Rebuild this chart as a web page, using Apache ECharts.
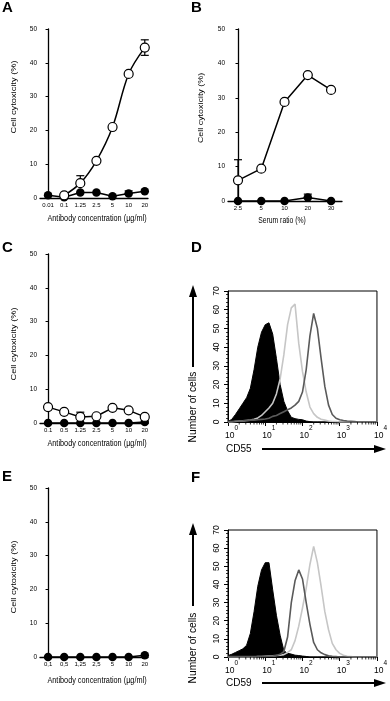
<!DOCTYPE html>
<html><head><meta charset="utf-8">
<script src="https://cdn.jsdelivr.net/npm/echarts@6/dist/echarts.min.js"></script>
<style>html,body{margin:0;padding:0;background:#fff}#c{width:390px;height:701px}</style>
</head><body><div id="c"></div>
<script>
// ---------- data ----------
const catsA = ['0.01','0.1','1.25','2.5','5','10','20'];
const openA = [null, 0.8, 4.4, 11, 21, 36.7, 44.5];
const filledA = [0.8, 0.2, 1.6, 1.6, 0.5, 1.3, 2];
const errOpenA = [[2, 4.4, 6.6], [6, 42.2, 46.8]];      // [category index, low, high]
const errFilledA = [[5, 1.3, 2.1]];

const catsB = ['2.5','5','10','20','30'];
const openB = [6, 9.4, 28.8, 36.6, 32.3];
const filledB = [0, 0, 0, 1, 0];
const errOpenB = [[0, 0, 12]];
const errFilledB = [[3, 1, 2]];

const catsC = ['0.1','0.5','1.25','2.5','5','10','20'];
const openC = [4.7, 3.3, 1.8, 2.0, 4.5, 3.75, 1.8];
const filledC = [0, 0, 0, 0, 0, 0, 0.3];
const errOpenC = [[2, 1.8, 3.2]];

const catsE = ['0,1','0,5','1,25','2,5','5','10','20'];
const filledE = [0, 0, 0, 0, 0, 0, 0.5];

const cytoTicks = [0, 10, 20, 30, 40, 50];
const countTicks = [0, 10, 20, 30, 40, 50, 60, 70];
const decades = [0, 1, 2, 3, 4];

// histogram counts, one value per 0.1 decade from 10^0 to 10^4 (41 bins)
const d55Black = [0.3,1.4,4,7,10,13,18,28,40,48,52,53,47,34,20,11,6,2.5,1.8,1.4,1.2,0.5,0.2,0,0,0,0,0,0,0,0,0,0,0,0,0,0,0,0,0,0];
const d55Light = [0,0,0.3,0.5,0.6,0.8,1,1.5,2.2,3.5,5.5,7.5,10,15,23,36,52,61,63,42,27,16,8,4.5,2.5,1.5,1,0.5,0.3,0.2,0,0,0,0,0,0,0,0,0,0,0];
const d55Dark  = [0.3,0.3,0.5,0.5,0.6,0.8,1,1,1.2,1.4,1.6,2,3,3.5,4.5,5.5,6.5,7.5,9,11,16,28,46,58,50,34,19,9,4,2,1.2,0.8,0.5,0.4,0.2,0,0,0,0,0,0];
const f59Black = [0.8,1.5,2.5,3.5,4.5,6.5,13,25,39,48,52,52,37,23,12,3.5,2,1.6,1,0.8,0.5,0.3,0,0,0,0,0,0,0,0,0,0,0,0,0,0,0,0,0,0,0];
const f59Dark  = [0.2,0.2,0.2,0.3,0.3,0.3,0.3,0.3,0.3,0.3,0.3,0.4,0.5,0.8,1.5,3,11,30,42,48,43,30,18,8,4,2.3,1.3,0.7,0.4,0.2,0,0,0,0,0,0,0,0,0,0,0];
const f59Light = [0,0,0,0,0,0,0,0,0.2,0.3,0.4,0.5,0.6,0.8,1,1.3,2.5,4,9,17,27,38,51,61,52,39,25,15,7.5,4,2,1,0.4,0.2,0,0,0,0,0,0,0];

// ---------- helpers ----------
const FONT = '"Liberation Sans", Arial, Helvetica, sans-serif';
const BLK = '#000';
const binPos = i => i / 10;
const histData = arr => arr.map((v, i) => [binPos(i), v]);
const ptData = arr => arr.map((v, i) => [i, v]).filter(d => d[1] !== null);
const minorLog = [];
decades.slice(0, 4).forEach(d => { for (let k = 2; k <= 9; k++) minorLog.push([d + Math.log10(k)]); });

function catX(gi, cats, min, max) {
  return {
    type: 'value', gridIndex: gi, min: min, max: max,
    axisLine: { show: true, onZero: false, lineStyle: { color: BLK, width: 1.3 } },
    axisTick: { show: false }, splitLine: { show: false },
    axisLabel: { customValues: cats.map((c, i) => i), formatter: v => cats[Math.round(v)],
      fontSize: 6, color: BLK, margin: 4, fontFamily: FONT }
  };
}
function cytoY(gi) {
  return {
    type: 'value', gridIndex: gi, min: cytoTicks[0], max: cytoTicks[cytoTicks.length - 1], interval: 10,
    axisLine: { show: true, lineStyle: { color: BLK, width: 1.3 } },
    axisTick: { show: true, length: 2.5, lineStyle: { color: BLK, width: 1 } },
    splitLine: { show: false },
    axisLabel: { fontSize: 6.5, color: BLK, margin: 3, fontFamily: FONT }
  };
}
function logX(gi) {
  return {
    type: 'value', gridIndex: gi, min: decades[0], max: decades[decades.length - 1], interval: 1,
    axisLine: { show: true, onZero: false, lineStyle: { color: BLK, width: 1 } },
    axisTick: { show: true, length: 4, lineStyle: { color: BLK, width: 1 } },
    splitLine: { show: false },
    axisLabel: { formatter: v => '{b|10}{s|' + v + '}', margin: 3, padding: [0, 0, 0, 7],
      rich: { b: { fontSize: 8.5, fontFamily: FONT, color: BLK, lineHeight: 15, verticalAlign: 'bottom' },
              s: { fontSize: 6.5, fontFamily: FONT, color: BLK, lineHeight: 7, verticalAlign: 'top' } } }
  };
}
function countY(gi) {
  return {
    type: 'value', gridIndex: gi, min: countTicks[0], max: countTicks[countTicks.length - 1], interval: 10,
    axisLine: { show: true, lineStyle: { color: BLK, width: 1 } },
    axisTick: { show: true, length: 4, lineStyle: { color: BLK, width: 1 } },
    minorTick: { show: true, splitNumber: 5, length: 2, lineStyle: { color: BLK, width: 0.8 } },
    splitLine: { show: false },
    axisLabel: { show: false }
  };
}
function countLabels(gi, size) {
  return {
    type: 'custom', xAxisIndex: gi, yAxisIndex: gi, data: countTicks.map(v => [decades[0], v]),
    clip: false, z: 6, animation: false,
    renderItem: (params, api) => {
      const p = api.coord([api.value(0), api.value(1)]);
      return { type: 'group', x: p[0] - 11, y: p[1], rotation: Math.PI / 2, children: [
        { type: 'text', x: 0, y: 0,
          style: { text: String(api.value(1)), fontSize: size, fontFamily: FONT, fill: BLK, align: 'center', verticalAlign: 'middle' } }
      ] };
    }
  };
}
function ptSeries(gi, arr, open, smooth) {
  return {
    type: 'line', xAxisIndex: gi, yAxisIndex: gi, data: ptData(arr), clip: false,
    symbol: 'circle', symbolSize: open ? 9 : 8.5, smooth: smooth ? 0.35 : false,
    lineStyle: { color: BLK, width: 1.5 },
    itemStyle: open ? { color: '#fff', borderColor: BLK, borderWidth: 1.2 } : { color: BLK, borderColor: BLK, borderWidth: 0 },
    z: open ? 4 : 3, animation: false
  };
}
function errSeries(gi, arr) {
  return {
    type: 'custom', xAxisIndex: gi, yAxisIndex: gi, data: arr, clip: false, z: 2, animation: false,
    renderItem: (params, api) => {
      const x = api.value(0), lo = api.value(1), hi = api.value(2);
      const a = api.coord([x, hi]), b = api.coord([x, lo]);
      const w = 4, st = { stroke: BLK, lineWidth: 1.2 };
      return { type: 'group', children: [
        { type: 'line', shape: { x1: a[0], y1: a[1], x2: b[0], y2: b[1] }, style: st },
        { type: 'line', shape: { x1: a[0] - w, y1: a[1], x2: a[0] + w, y2: a[1] }, style: st },
        { type: 'line', shape: { x1: b[0] - w, y1: b[1], x2: b[0] + w, y2: b[1] }, style: st }
      ] };
    }
  };
}
function histSeries(gi, arr, color, fill, z) {
  return {
    type: 'line', xAxisIndex: gi, yAxisIndex: gi, data: histData(arr), symbol: 'none',
    lineStyle: { color: color, width: fill ? 1 : 1.6 },
    areaStyle: fill ? { color: color, opacity: 1 } : undefined, z: z, animation: false
  };
}
function minorSeries(gi) {
  return {
    type: 'custom', xAxisIndex: gi, yAxisIndex: gi, data: minorLog, clip: false, z: 6, animation: false,
    renderItem: (params, api) => {
      const p = api.coord([api.value(0), 0]);
      return { type: 'line', shape: { x1: p[0], y1: p[1], x2: p[0], y2: p[1] + 2.5 }, style: { stroke: BLK, lineWidth: 0.8 } };
    }
  };
}
function txt(x, y, s, size, opts) {
  opts = opts || {};
  return { type: 'text', x: x, y: y, rotation: opts.rot || 0, scaleX: opts.sx || 1, scaleY: opts.sy || 1, z: 20,
    style: { text: s, fontSize: size, fontFamily: FONT, fontWeight: opts.bold ? 'bold' : 'normal', fill: BLK,
      align: opts.align || 'center', verticalAlign: 'middle' } };
}
function vArrow(x, yTop, yBot) {
  return [
    { type: 'line', shape: { x1: x, y1: yBot, x2: x, y2: yTop + 11 }, style: { stroke: BLK, lineWidth: 2 }, z: 20 },
    { type: 'polygon', shape: { points: [[x, yTop], [x - 4, yTop + 12], [x + 4, yTop + 12]] }, style: { fill: BLK }, z: 20 }
  ];
}
function hArrow(xL, xR, y) {
  return [
    { type: 'line', shape: { x1: xL, y1: y, x2: xR - 11, y2: y }, style: { stroke: BLK, lineWidth: 2 }, z: 20 },
    { type: 'polygon', shape: { points: [[xR, y], [xR - 12, y - 4], [xR - 12, y + 4]] }, style: { fill: BLK }, z: 20 }
  ];
}

const R = Math.PI / 2;
const yT = { rot: R, sx: 1.22 };
const xT = { sy: 1.25 };
const option = {
  backgroundColor: '#fff',
  animation: false,
  grid: [
    { left: 40, top: 29, width: 108, height: 169 },
    { left: 228, top: 29, width: 114, height: 172 },
    { left: 40, top: 254, width: 108, height: 169 },
    { left: 228, top: 291, width: 153, height: 131, show: true, borderColor: BLK, borderWidth: 1 },
    { left: 40, top: 488, width: 108, height: 169 },
    { left: 228, top: 530, width: 153, height: 127, show: true, borderColor: BLK, borderWidth: 1 }
  ],
  xAxis: [
    catX(0, catsA, -0.5, 6.2),
    catX(1, catsB, -0.43, 4.47),
    catX(2, catsC, -0.5, 6.2),
    logX(3),
    catX(4, catsE, -0.5, 6.2),
    logX(5)
  ],
  yAxis: [cytoY(0), cytoY(1), cytoY(2), countY(3), cytoY(4), countY(5)],
  series: [
    errSeries(0, errOpenA), errSeries(0, errFilledA),
    ptSeries(0, filledA, false, false), ptSeries(0, openA, true, true),
    errSeries(1, errOpenB), errSeries(1, errFilledB),
    ptSeries(1, filledB, false, false), ptSeries(1, openB, true, false),
    errSeries(2, errOpenC),
    ptSeries(2, filledC, false, false), ptSeries(2, openC, true, false),
    histSeries(3, d55Black, '#000', true, 2), histSeries(3, d55Light, '#c6c6c6', false, 3), histSeries(3, d55Dark, '#5a5a5a', false, 4),
    minorSeries(3), countLabels(3, 8.5),
    ptSeries(4, filledE, false, false),
    histSeries(5, f59Black, '#000', true, 2), histSeries(5, f59Light, '#c6c6c6', false, 3), histSeries(5, f59Dark, '#5a5a5a', false, 4),
    minorSeries(5), countLabels(5, 8.5)
  ],
  graphic: [
    txt(2, 7.5, 'A', 15, { bold: true, align: 'left' }),
    txt(191, 7.5, 'B', 15, { bold: true, align: 'left' }),
    txt(2, 247.5, 'C', 15, { bold: true, align: 'left' }),
    txt(191, 248, 'D', 15, { bold: true, align: 'left' }),
    txt(2, 477, 'E', 15, { bold: true, align: 'left' }),
    txt(191, 478, 'F', 15, { bold: true, align: 'left' }),
    txt(14, 97, 'Cell cytoxicity (%)', 7.6, yT),
    txt(201, 108, 'Cell cytoxicity (%)', 7.3, yT),
    txt(14, 344, 'Cell cytoxicity (%)', 7.6, yT),
    txt(14, 577, 'Cell cytoxicity (%)', 7.6, yT),
    txt(97, 218, 'Antibody concentration (µg/ml)', 7.3, xT),
    txt(282, 221, 'Serum ratio (%)', 6.8, xT),
    txt(97, 443, 'Antibody concentration (µg/ml)', 7.3, xT),
    txt(97, 680, 'Antibody concentration (µg/ml)', 7.3, xT),
    txt(193, 407, 'Number of cells', 10.2, { rot: R }),
    ...vArrow(193, 285, 367),
    txt(193, 648, 'Number of cells', 10.2, { rot: R }),
    ...vArrow(193, 523, 606),
    txt(226, 449, 'CD55', 10, { align: 'left' }),
    ...hArrow(262, 386, 449),
    txt(226, 683, 'CD59', 10, { align: 'left' }),
    ...hArrow(262, 386, 683)
  ]
};
const chart = echarts.init(document.getElementById('c'), null, { renderer: 'canvas' });
chart.setOption(option);
</script>
</body></html>
